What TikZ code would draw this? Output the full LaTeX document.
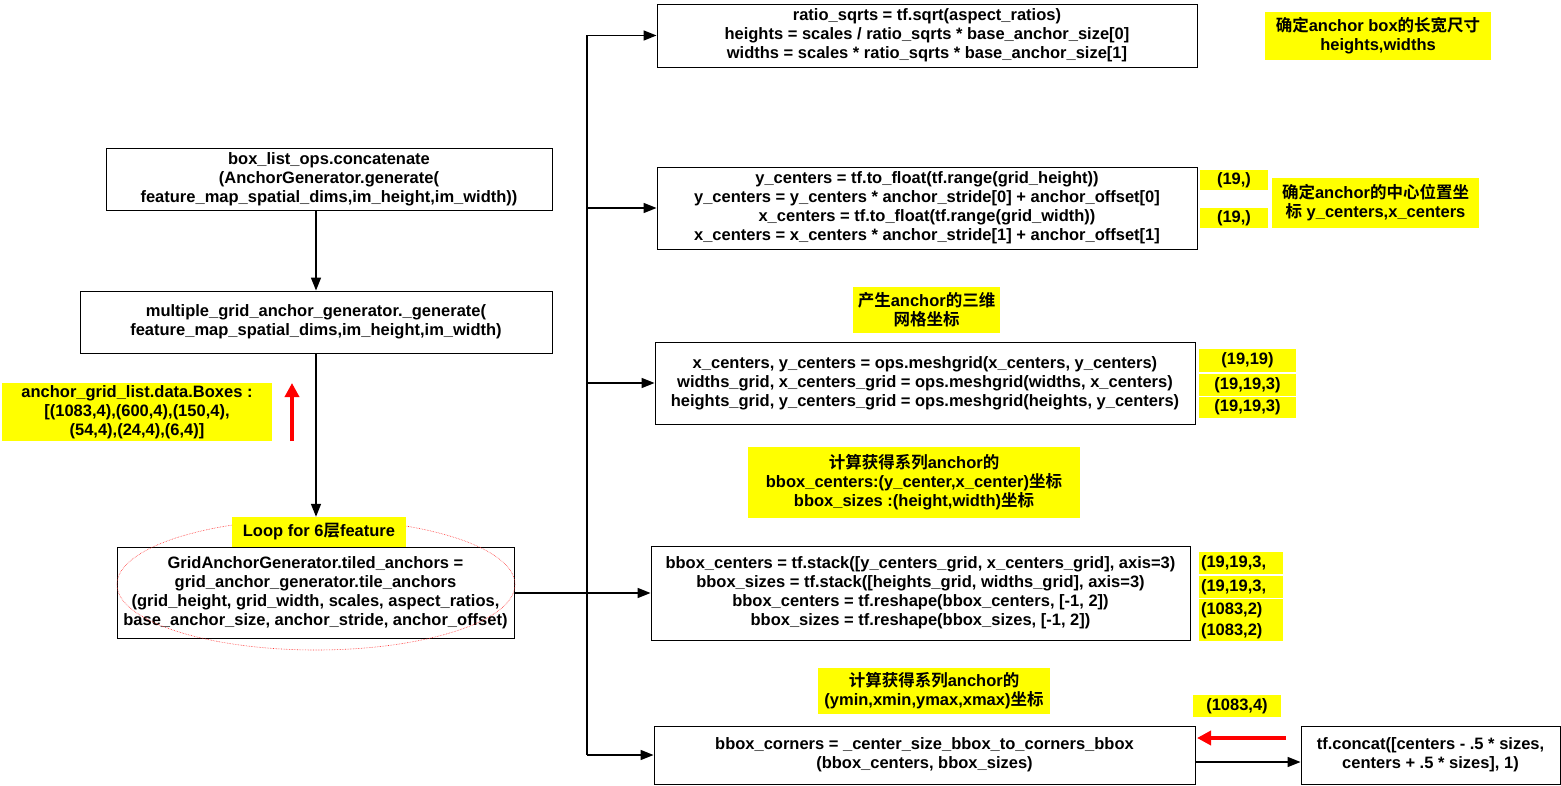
\documentclass[tikz,border=0pt]{standalone}
\usepackage{fontspec}
\setmainfont{Liberation Sans}
\newfontfamily\cjkf{Noto Sans CJK SC}[BoldFont={* Bold}]
\newcommand\zh[1]{{\cjkf\bfseries #1}}
\usetikzlibrary{arrows.meta,shapes.geometric}
\definecolor{hl}{RGB}{255,255,0}
\begin{document}
\begin{tikzpicture}[x=1pt,y=-1pt,
  box/.style={draw=black,line width=0.9pt,fill=white,align=center,inner sep=0pt,font=\fontsize{16.5}{19}\selectfont\bfseries},
  yl/.style={fill=hl,align=center,inner sep=0pt,font=\fontsize{16.5}{19}\selectfont\bfseries},
  arr/.style={draw=black,line width=1.4pt,-{Triangle[length=13pt,width=10pt]}},
  ln/.style={draw=black,line width=1.4pt},
  redarr/.style={draw=red,line width=3.5pt,-{Triangle[length=14pt,width=14pt]}}]
\useasboundingbox (0,0) rectangle (1561,786);
% left column
\node[box,minimum width=446pt,minimum height=62pt] (A) at (329,179)
 {box\_list\_ops.concatenate\\(AnchorGenerator.generate(\\feature\_map\_spatial\_dims,im\_height,im\_width))};
\node[box,minimum width=472pt,minimum height=62pt] (B) at (316,322)
 {multiple\_grid\_anchor\_generator.\_generate(\\feature\_map\_spatial\_dims,im\_height,im\_width)};
\node[box,minimum width=397pt,minimum height=91pt] (C) at (315.5,593)
 {GridAnchorGenerator.tiled\_anchors =\\grid\_anchor\_generator.tile\_anchors\\(grid\_height, grid\_width, scales, aspect\_ratios,\\base\_anchor\_size, anchor\_stride, anchor\_offset)};
\node[draw=red!80,densely dotted,line width=0.6pt,ellipse,minimum width=398pt,minimum height=131pt] (E1) at (316,584.5) {};
\node[yl,minimum width=174pt,minimum height=30pt] (L) at (319,532) {Loop for 6\zh{层}feature};
\node[yl,minimum width=270pt,minimum height=58pt] (Y0) at (137,412)
 {anchor\_grid\_list.data.Boxes :\\{}[(1083,4),(600,4),(150,4),\\(54,4),(24,4),(6,4)]};
\coordinate (r1) at (292,441);
\coordinate (r2) at (292,383);
\draw[redarr] (r1) -- (r2);
\draw[arr] (A.south -| 316,0) -- (B.north -| 316,0);
\draw[arr] (B.south -| 316,0) -- (L.north -| 316,0);
% right column
\node[box,minimum width=540pt,minimum height=63pt] (D) at (927,35.5)
 {ratio\_sqrts = tf.sqrt(aspect\_ratios)\\heights = scales / ratio\_sqrts * base\_anchor\_size[0]\\widths = scales * ratio\_sqrts * base\_anchor\_size[1]};
\node[box,minimum width=540pt,minimum height=82pt] (E) at (927,208)
 {y\_centers = tf.to\_float(tf.range(grid\_height))\\y\_centers = y\_centers * anchor\_stride[0] + anchor\_offset[0]\\x\_centers = tf.to\_float(tf.range(grid\_width))\\x\_centers = x\_centers * anchor\_stride[1] + anchor\_offset[1]};
\node[box,minimum width=540pt,minimum height=82pt] (F) at (925,383)
 {x\_centers, y\_centers = ops.meshgrid(x\_centers, y\_centers)\\widths\_grid, x\_centers\_grid = ops.meshgrid(widths, x\_centers)\\heights\_grid, y\_centers\_grid = ops.meshgrid(heights, y\_centers)};
\node[box,minimum width=539pt,minimum height=94pt] (G) at (920.5,593)
 {bbox\_centers = tf.stack([y\_centers\_grid, x\_centers\_grid], axis=3)\\bbox\_sizes = tf.stack([heights\_grid, widths\_grid], axis=3)\\bbox\_centers = tf.reshape(bbox\_centers, [-1, 2])\\bbox\_sizes = tf.reshape(bbox\_sizes, [-1, 2])};
\node[box,minimum width=541pt,minimum height=58pt] (H) at (924.5,755)
 {bbox\_corners = \_center\_size\_bbox\_to\_corners\_bbox\\(bbox\_centers, bbox\_sizes)};
\node[box,minimum width=259pt,minimum height=58pt] (I) at (1430.5,755)
 {tf.concat([centers - .5 * sizes,\\centers + .5 * sizes], 1)};
% yellow notes
\node[yl,minimum width=226pt,minimum height=48pt] (n1) at (1378,36) {\zh{确定}anchor box\zh{的长宽尺寸}\\heights,widths};
\node[yl,minimum width=207pt,minimum height=50pt] (n2) at (1375.5,203) {\zh{确定}anchor\zh{的中心位置坐}\\\zh{标} y\_centers,x\_centers};
\node[yl,minimum width=68pt,minimum height=20pt] (s1) at (1234,180) {(19,)};
\node[yl,minimum width=68pt,minimum height=20pt] (s2) at (1234,218) {(19,)};
\node[yl,minimum width=147pt,minimum height=46pt] (n3) at (926.5,310) {\zh{产生}anchor\zh{的三维}\\\zh{网格坐标}};
\node[yl,minimum width=97pt,minimum height=23pt] (s3) at (1247.5,360.5) {(19,19)};
\node[yl,minimum width=97pt,minimum height=22pt] (s4) at (1247.5,385) {(19,19,3)};
\node[yl,minimum width=97pt,minimum height=21pt] (s5) at (1247.5,407.5) {(19,19,3)};
\node[yl,minimum width=332pt,minimum height=71pt] (n4) at (914,482.5) {\zh{计算获得系列}anchor\zh{的}\\bbox\_centers:(y\_center,x\_center)\zh{坐标}\\bbox\_sizes :(height,width)\zh{坐标}};
\node[yl,minimum width=84pt,minimum height=22pt,text width=80pt,align=left] (s6) at (1241,563) {(19,19,3,};
\node[yl,minimum width=84pt,minimum height=22pt,text width=80pt,align=left] (s7) at (1241,587) {(19,19,3,};
\node[yl,minimum width=84pt,minimum height=22pt,text width=80pt,align=left] (s8) at (1241,610) {(1083,2)};
\node[yl,minimum width=84pt,minimum height=20pt,text width=80pt,align=left] (s9) at (1241,631) {(1083,2)};
\node[yl,minimum width=232pt,minimum height=46pt] (n5) at (934,691) {\zh{计算获得系列}anchor\zh{的}\\(ymin,xmin,ymax,xmax)\zh{坐标}};
\node[yl,minimum width=88pt,minimum height=22pt] (s10) at (1237,706) {(1083,4)};
% connectors
\coordinate (jD) at (587,35.5);
\coordinate (jH) at (587,755);
\draw[ln] (jD) -- (jH);
\draw[arr] (jD) -- (D.west);
\draw[arr] (jD |- E.west) -- (E.west);
\draw[arr] (jD |- F.west) -- (F.west);
\draw[arr] (C.east) -- (G.west);
\draw[arr] (jH) -- (H.west);
\draw[arr] (H.east |- 0,762) -- (I.west |- 0,762);
\coordinate (r3) at (1286,738);
\coordinate (r4) at (1197,738);
\draw[redarr] (r3) -- (r4);
\end{tikzpicture}
\end{document}
